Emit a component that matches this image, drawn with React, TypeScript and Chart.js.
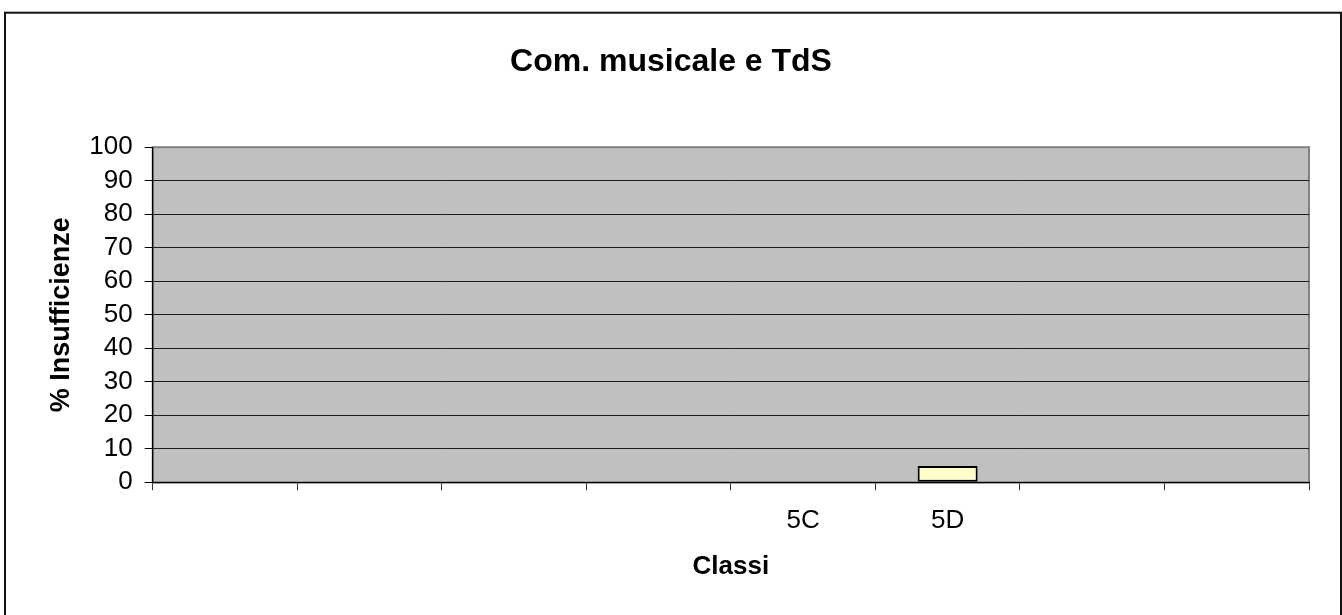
import React, { useEffect, useRef } from "react";
import { Chart, registerables } from "chart.js";

Chart.register(...registerables);

const categories: string[] = ["", "", "", "", "5C", "5D", "", ""];
const insufficienze: (number | null)[] = [null, null, null, null, 0, 4.9, null, null];
const yTicks = { min: 0, max: 100, step: 10 };

const titleText = "Com. musicale e TdS";
const xTitle = "Classi";
const yTitle = "% Insufficienze";

const FONT = "'Liberation Sans', Arial, Helvetica, sans-serif";

const plotBg = {
  id: "plotBg",
  beforeDraw(chart: any) {
    const { ctx, chartArea } = chart;
    if (!chartArea) return;
    const { left, top, right, bottom } = chartArea;
    ctx.save();
    ctx.fillStyle = "#C0C0C0";
    ctx.fillRect(left, top, right - left, bottom - top);
    ctx.strokeStyle = "#808080";
    ctx.lineWidth = 2;
    ctx.strokeRect(left, top, right - left, bottom - top);
    ctx.restore();
  },
  afterDraw(chart: any) {
    const { ctx } = chart;
    ctx.save();
    ctx.strokeStyle = "#111";
    ctx.lineWidth = 2;
    ctx.strokeRect(5, 12.7, 1336, 800);
    ctx.restore();
  },
};

export default function App() {
  const ref = useRef<HTMLCanvasElement | null>(null);

  useEffect(() => {
    if (!ref.current) return;
    const chart = new Chart(ref.current, {
      type: "bar",
      data: {
        labels: categories,
        datasets: [
          {
            label: "Insufficienze",
            data: insufficienze,
            backgroundColor: "#FFFFCC",
            borderColor: "#000000",
            borderWidth: 2,
            borderSkipped: false,
            barPercentage: 0.415,
            categoryPercentage: 1,
            yAxisID: "y",
          },
        ],
      },
      options: {
        responsive: false,
        animation: false,
        devicePixelRatio: 1,
        layout: { padding: { left: 0, right: 0, top: 0, bottom: 0 } },
        plugins: {
          legend: { display: false },
          tooltip: { enabled: false },
          title: {
            display: true,
            text: titleText,
            color: "#000",
            font: { family: FONT, size: 32, weight: "bold", lineHeight: 1.2 },
            padding: { top: 42.8, bottom: 66 },
          },
        },
        scales: {
          x: {
            type: "category",
            offset: true,
            afterFit: (scale: any) => {
              scale.height = 132.7;
            },
            grid: {
              offset: true,
              display: true,
              drawOnChartArea: false,
              drawTicks: true,
              tickLength: 8,
              tickColor: "#333",
              color: "#333",
            },
            border: { display: true, color: "#000", width: 1.3 },
            ticks: {
              color: "#000",
              font: { family: FONT, size: 26, lineHeight: 1.2 },
              padding: 14.9,
              maxRotation: 0,
              autoSkip: false,
            },
            title: {
              display: true,
              text: xTitle,
              color: "#000",
              font: { family: FONT, size: 26, weight: "bold", lineHeight: 1.2 },
              padding: { top: 0, bottom: 32.7 },
            },
          },
          y: {
            position: "left",
            min: yTicks.min,
            max: yTicks.max,
            afterFit: (scale: any) => {
              scale.width = 152.7;
            },
            grid: {
              color: (c: any) => (c.tick && c.tick.value === yTicks.max ? "rgba(0,0,0,0)" : "#1a1a1a"),
              tickColor: "#000",
              tickLength: 8,
              lineWidth: 1,
            },
            border: { display: true, color: "#000", width: 1.3 },
            ticks: {
              stepSize: yTicks.step,
              autoSkip: false,
              color: "#000",
              font: { family: FONT, size: 26, lineHeight: 1.2 },
              padding: 12,
            },
            title: {
              display: true,
              text: yTitle,
              color: "#000",
              font: { family: FONT, size: 27, weight: "bold", lineHeight: 1.2 },
              padding: { top: 45.3, bottom: 0 },
            },
          },
          yRight: {
            position: "right",
            min: yTicks.min,
            max: yTicks.max,
            display: true,
            afterFit: (scale: any) => {
              scale.width = 33;
            },
            grid: { display: false, drawOnChartArea: false, drawTicks: false },
            border: { display: false },
            ticks: { display: false },
            title: { display: false },
          },
        },
      },
      plugins: [plotBg],
    });
    return () => chart.destroy();
  }, []);

  return (
    <div style={{ position: "absolute", left: 0, top: 0, width: 1342, height: 615, background: "#fff" }}>
      <canvas ref={ref} width={1342} height={615} style={{ display: "block" }} />
    </div>
  );
}
